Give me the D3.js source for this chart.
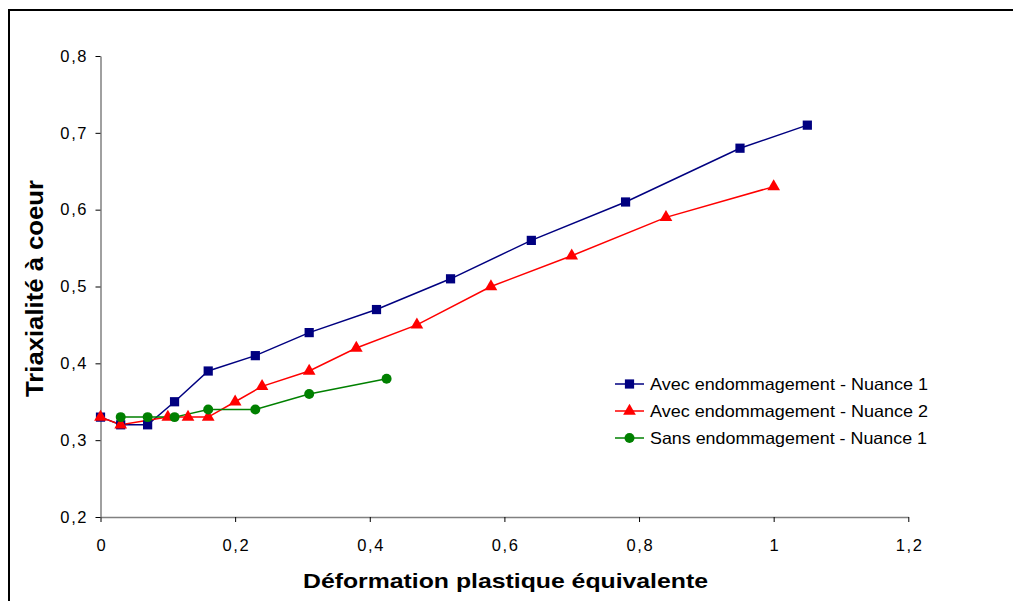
<!DOCTYPE html>
<html><head><meta charset="utf-8">
<script src="https://cdn.jsdelivr.net/npm/d3@7"></script>
<style>body{margin:0;background:#fff;} svg{display:block;}</style>
</head><body>
<script>
const xTicks = [0, 0.2, 0.4, 0.6, 0.8, 1, 1.2];
const yTicks = [0.2, 0.3, 0.4, 0.5, 0.6, 0.7, 0.8];
const avecN1X = [0, 0.03, 0.07, 0.11, 0.16, 0.23, 0.31, 0.41, 0.52, 0.64, 0.78, 0.95, 1.05];
const avecN1Y = [0.33, 0.32, 0.32, 0.35, 0.39, 0.41, 0.44, 0.47, 0.51, 0.56, 0.61, 0.68, 0.71];
const avecN2X = [0, 0.03, 0.10, 0.13, 0.16, 0.20, 0.24, 0.31, 0.38, 0.47, 0.58, 0.70, 0.84, 1.0];
const avecN2Y = [0.33, 0.32, 0.33, 0.33, 0.33, 0.35, 0.37, 0.39, 0.42, 0.45, 0.50, 0.54, 0.59, 0.63];
const sansN1X = [0.03, 0.07, 0.11, 0.16, 0.23, 0.31, 0.425];
const sansN1Y = [0.33, 0.33, 0.33, 0.34, 0.34, 0.36, 0.38];
const seriesNames = ["Avec endommagement - Nuance 1", "Avec endommagement - Nuance 2", "Sans endommagement - Nuance 1"];
const xTitle = "Déformation plastique équivalente";
const yTitle = "Triaxialité à coeur";

const W = 1013, H = 601;
const font = "'Liberation Sans', Arial, sans-serif";
const svg = d3.select("body").append("svg").attr("width", W).attr("height", H);
svg.append("rect").attr("width", W).attr("height", H).attr("fill", "#fff");
svg.append("rect").attr("x", 9).attr("y", 10).attr("width", 1100).attr("height", 700)
  .attr("fill", "none").attr("stroke", "#000").attr("stroke-width", 2);

const x = d3.scaleLinear().domain([0, 1.2]).range([100.5, 908.3]);
const y = d3.scaleLinear().domain([0.2, 0.8]).range([517, 56]);
const fmt = d => String(d).replace(".", ",");

const gx = svg.append("g").attr("transform", "translate(0,517)")
  .call(d3.axisBottom(x).tickValues(xTicks).tickFormat(fmt).tickSize(5).tickSizeOuter(0).tickPadding(17));
const gy = svg.append("g").attr("transform", "translate(100.5,0)")
  .call(d3.axisLeft(y).tickValues(yTicks).tickFormat(fmt).tickSize(5).tickSizeOuter(0).tickPadding(9));
[gx, gy].forEach(g => {
  g.select(".domain").attr("stroke", "#808080").attr("stroke-width", 1.5);
  g.selectAll(".tick line").attr("stroke", "#000").attr("stroke-width", 1);
  g.selectAll(".tick text").attr("font-family", font).attr("font-size", 16.5)
    .attr("letter-spacing", 1.6).attr("fill", "#000");
});
gy.selectAll(".tick text").attr("dx", 1.6);
gx.selectAll(".tick text").attr("dx", 0.8);

const series = [
  {xs: avecN1X, ys: avecN1Y, color: "#000080", sym: d3.symbolSquare, size: 85},
  {xs: avecN2X, ys: avecN2Y, color: "#FF0000", sym: d3.symbolTriangle, size: 70},
  {xs: sansN1X, ys: sansN1Y, color: "#008000", sym: d3.symbolCircle, size: 78}
];
const line = d3.line().x(d => x(d[0])).y(d => y(d[1]));
series.forEach(s => {
  const pts = s.xs.map((v, i) => [v, s.ys[i]]);
  svg.append("path").attr("d", line(pts)).attr("fill", "none")
    .attr("stroke", s.color).attr("stroke-width", 1.5);
});
series.forEach(s => {
  const pts = s.xs.map((v, i) => [v, s.ys[i]]);
  svg.append("g").selectAll("path").data(pts).join("path")
    .attr("transform", d => `translate(${x(d[0])},${y(d[1])})`)
    .attr("d", d3.symbol().type(s.sym).size(s.size)).attr("fill", s.color);
});

// legend
const lg = svg.append("g");
series.forEach((s, i) => {
  const yy = 384 + i * 27;
  lg.append("line").attr("x1", 615).attr("x2", 644).attr("y1", yy).attr("y2", yy)
    .attr("stroke", s.color).attr("stroke-width", 1.5);
  lg.append("path").attr("transform", `translate(629.5,${yy})`)
    .attr("d", d3.symbol().type(s.sym).size(s.size)).attr("fill", s.color);
  lg.append("text").attr("x", 650).attr("y", yy + 6).attr("font-family", font)
    .attr("font-size", 16.5).attr("fill", "#000")
    .attr("textLength", i === 2 ? 277 : 278).attr("lengthAdjust", "spacingAndGlyphs").text(seriesNames[i]);
});

svg.append("text").attr("x", 505.5).attr("y", 588).attr("text-anchor", "middle")
  .attr("font-family", font).attr("font-weight", "bold").attr("font-size", 21)
  .attr("textLength", 405).attr("lengthAdjust", "spacingAndGlyphs").text(xTitle);
svg.append("text").attr("transform", "translate(43,288.5) rotate(-90)").attr("text-anchor", "middle")
  .attr("font-family", font).attr("font-weight", "bold").attr("font-size", 23)
  .attr("textLength", 217).attr("lengthAdjust", "spacingAndGlyphs").text(yTitle);
</script>
</body></html>
